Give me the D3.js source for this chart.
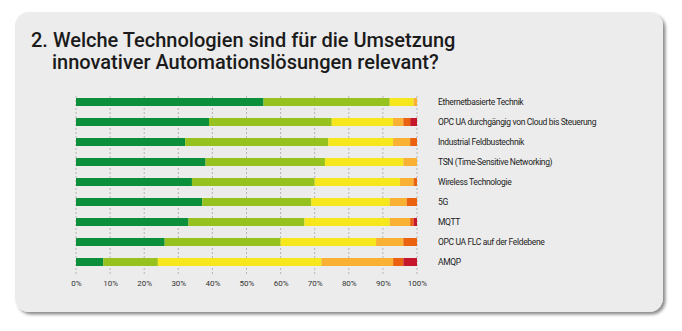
<!DOCTYPE html>
<html>
<head>
<meta charset="utf-8">
<script src="https://cdn.jsdelivr.net/npm/d3@7"></script>
<style>
  body { margin: 0; background: #fff; }
  svg { display: block; }
</style>
</head>
<body>
<svg id="chart" width="682" height="331"></svg>
<script>
// answer categories, from "very relevant" to "not relevant"
var categories = ["sehr relevant", "relevant", "teilweise", "wenig", "kaum", "nicht"];
var colors = ["#0b8f3b", "#97c11f", "#f6e71d", "#f8b133", "#ea6210", "#c6162b"];

var technologies = [
    "Ethernetbasierte Technik",
    "OPC UA durchgängig von Cloud bis Steuerung",
    "Industrial Feldbustechnik",
    "TSN (Time-Sensitive Networking)",
    "Wireless Technologie",
    "5G",
    "MQTT",
    "OPC UA FLC auf der Feldebene",
    "AMQP"
];

// shares in percent, one array per answer category
var sehrRelevant = [55, 39, 32, 38, 34, 37, 33, 26, 8];
var relevant     = [37, 36, 42, 35, 36, 32, 34, 34, 16];
var teilweise    = [7, 18, 19, 23, 25, 23, 25, 28, 48];
var wenig        = [1, 3, 5, 4, 4, 5, 6, 8, 21];
var kaum         = [0, 2, 2, 0, 1, 3, 1, 4, 3];
var nicht        = [0, 2, 0, 0, 0, 0, 1, 0, 4];

var tickValues = [0, 10, 20, 30, 40, 50, 60, 70, 80, 90, 100];

var series = [sehrRelevant, relevant, teilweise, wenig, kaum, nicht];
var rows = technologies.map(function(t, i) {
    var row = { name: t };
    categories.forEach(function(c, k) { row[c] = series[k][i]; });
    return row;
});

var svg = d3.select("#chart");

// card with soft shadow
var defs = svg.append("defs");
var f = defs.append("filter").attr("id", "shadow")
    .attr("x", "-5%").attr("y", "-5%").attr("width", "110%").attr("height", "115%");
f.append("feDropShadow").attr("dx", 2.5).attr("dy", 2.5).attr("stdDeviation", 1.6)
    .attr("flood-color", "#000").attr("flood-opacity", 0.45);

svg.append("rect")
    .attr("x", 15).attr("y", 12)
    .attr("width", 648).attr("height", 300)
    .attr("rx", 14).attr("ry", 14)
    .attr("fill", "#ececec")
    .attr("filter", "url(#shadow)");

// title, two lines
var titleLines = [
    { text: "2. Welche Technologien sind für die Umsetzung", x: 31, y: 46.5 },
    { text: "innovativer Automationslösungen relevant?", x: 52, y: 69 }
];
svg.append("g")
    .selectAll("text")
    .data(titleLines)
    .join("text")
    .attr("x", d => d.x)
    .attr("y", d => d.y)
    .attr("font-family", "Roboto, sans-serif")
    .attr("font-size", 20)
    .attr("font-weight", 500)
    .attr("fill", "#1b1b1b")
    .text(d => d.text);

var x = d3.scaleLinear().domain([0, 100]).range([76, 417]);
var y = d3.scaleBand().domain(technologies).range([92, 272]).paddingInner(0.6).paddingOuter(0.3);

// dashed grid
svg.append("g")
    .selectAll("line")
    .data(tickValues)
    .join("line")
    .attr("x1", d => x(d)).attr("x2", d => x(d))
    .attr("y1", 96).attr("y2", 274)
    .attr("stroke", "#b5b5b5")
    .attr("stroke-width", 1)
    .attr("stroke-dasharray", "2,2");

var stack = d3.stack().keys(categories)(rows);

svg.append("g")
    .selectAll("g")
    .data(stack)
    .join("g")
    .attr("fill", (d, i) => colors[i])
    .selectAll("rect")
    .data(d => d)
    .join("rect")
    .attr("x", d => x(d[0]))
    .attr("width", d => x(d[1]) - x(d[0]))
    .attr("y", d => y(d.data.name))
    .attr("height", y.bandwidth());

// x axis labels
var axis = d3.axisBottom(x).tickValues(tickValues).tickFormat(d => d + "%").tickSize(0).tickPadding(0);
var ax = svg.append("g").attr("transform", "translate(0,280)").call(axis);
ax.select(".domain").remove();
ax.selectAll("text")
    .attr("font-family", "Roboto, sans-serif")
    .attr("font-size", 8)
    .attr("fill", "#333");

// row labels on the right
svg.append("g")
    .selectAll("text")
    .data(technologies)
    .join("text")
    .attr("x", 438)
    .attr("y", d => y(d) + y.bandwidth() / 2)
    .attr("dy", "0.35em")
    .attr("font-family", "Roboto, sans-serif")
    .attr("font-size", 8.5)
    .attr("letter-spacing", -0.35)
    .attr("fill", "#222")
    .text(d => d);
</script>
</body>
</html>
